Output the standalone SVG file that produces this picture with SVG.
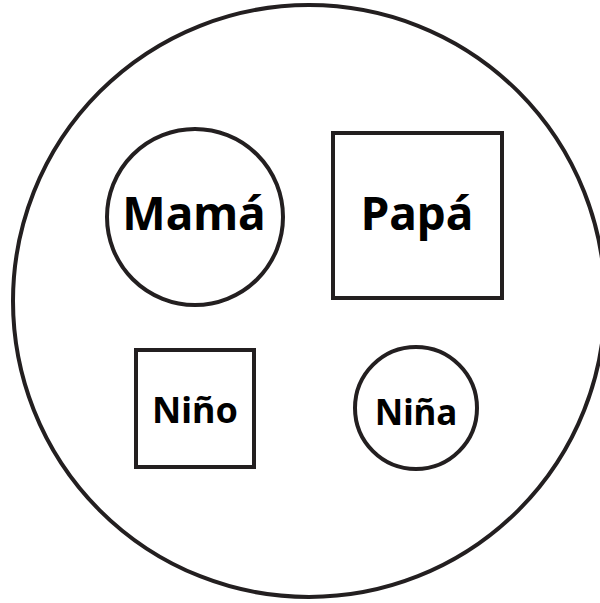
<svg xmlns="http://www.w3.org/2000/svg" width="600" height="603" viewBox="0 0 600 603">
<style>
.s{fill:#fff;stroke:#231f20;stroke-width:4}
.t{font-family:"Noto Sans","Open Sans","DejaVu Sans",sans-serif;font-weight:bold;fill:#000;text-anchor:middle}
</style>
<rect width="600" height="603" fill="#fff"/>
<g id="familia"><circle class="s" cx="309" cy="301" r="296"/></g>
<g id="mama"><circle class="s" cx="195" cy="217" r="88"/><text class="t" x="194" y="230" font-size="46">Mamá</text></g>
<g id="papa"><rect class="s" x="333" y="133" width="169" height="165"/><text class="t" x="417" y="230" font-size="46">Papá</text></g>
<g id="nino"><rect class="s" x="136" y="350" width="118" height="117"/><text class="t" x="195" y="423" font-size="36">Niño</text></g>
<g id="nina"><circle class="s" cx="416" cy="408" r="61"/><text class="t" x="416" y="425" font-size="35">Niña</text></g>
<g id="connectors"/>
</svg>
